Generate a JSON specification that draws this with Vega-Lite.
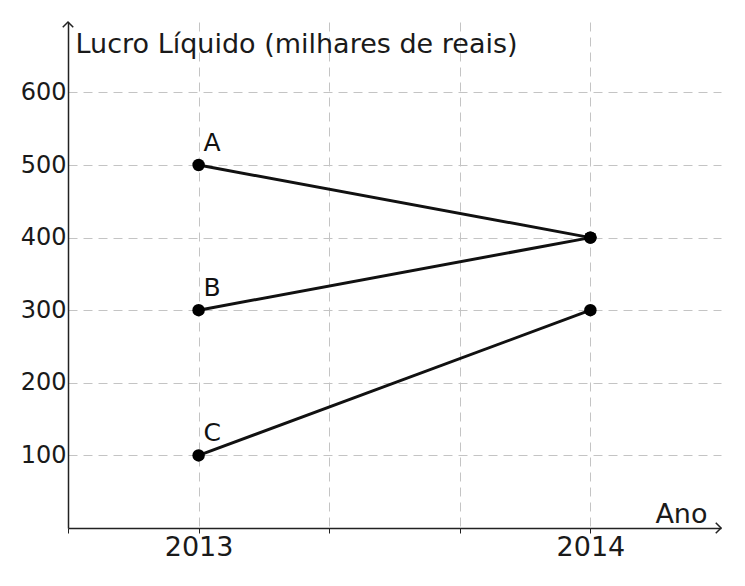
{
  "$schema": "https://vega.github.io/schema/vega-lite/v6.json",
  "autosize": {"type": "none"},
  "width": 653,
  "height": 506,
  "padding": {"left": 68, "top": 22, "right": 24, "bottom": 58},
  "background": "white",
  "config": {
    "view": {"stroke": null},
    "font": "DejaVu Sans",
    "axis": {"labelFont": "DejaVu Sans", "titleFont": "DejaVu Sans"}
  },
  "datasets": {
    "lucro": [
      {"serie": "A", "ano": 2013, "valor": 500},
      {"serie": "A", "ano": 2014, "valor": 400},
      {"serie": "B", "ano": 2013, "valor": 300},
      {"serie": "B", "ano": 2014, "valor": 400},
      {"serie": "C", "ano": 2013, "valor": 100},
      {"serie": "C", "ano": 2014, "valor": 300}
    ],
    "setas": [
      {"eixo": "x", "ano": 2014.3333333, "valor": 0},
      {"eixo": "y", "ano": 2012.6666667, "valor": 697}
    ]
  },
  "encoding": {
    "x": {
      "field": "ano", "type": "quantitative",
      "scale": {"domain": [2012.6666667, 2014.3333333], "nice": false, "zero": false},
      "axis": {
        "values": [2012.6666667, 2013, 2013.3333333, 2013.6666667, 2014],
        "labelExpr": "abs(datum.value - round(datum.value)) < 0.01 ? toString(round(datum.value)) : ''",
        "labelFontSize": 27, "labelColor": "#1a1a1a", "labelPadding": 1,
        "tickSize": 5, "tickColor": "#222", "tickWidth": 1,
        "domainColor": "#222", "domainWidth": 1.5,
        "grid": true, "gridColor": "#c4c4c4", "gridDash": [9, 6], "gridWidth": 1,
        "title": "Ano", "titleFontSize": 27, "titleFontWeight": "normal", "titleColor": "#1a1a1a",
        "titleAngle": 0, "titleAlign": "right", "titleBaseline": "alphabetic",
        "titleX": 639, "titleY": -6
      }
    },
    "y": {
      "field": "valor", "type": "quantitative",
      "scale": {"domain": [0, 697], "nice": false},
      "axis": {
        "values": [100, 200, 300, 400, 500, 600],
        "labelFontSize": 24, "labelColor": "#1a1a1a", "labelPadding": 2,
        "tickSize": 0,
        "domainColor": "#222", "domainWidth": 1.5,
        "grid": true, "gridColor": "#c4c4c4", "gridDash": [9, 6], "gridWidth": 1,
        "title": "Lucro Líquido (milhares de reais)", "titleFontSize": 27, "titleFontWeight": "normal", "titleColor": "#1a1a1a",
        "titleAngle": 0, "titleAlign": "left", "titleBaseline": "alphabetic",
        "titleX": 7, "titleY": 30
      }
    }
  },
  "layer": [
    {
      "data": {"name": "lucro"},
      "mark": {"type": "line", "color": "#111", "strokeWidth": 3},
      "encoding": {"detail": {"field": "serie"}}
    },
    {
      "data": {"name": "lucro"},
      "mark": {"type": "point", "filled": true, "color": "#000", "size": 155, "opacity": 1}
    },
    {
      "data": {"name": "lucro"},
      "transform": [{"filter": "datum.ano == 2013"}],
      "mark": {"type": "text", "align": "left", "baseline": "middle", "dx": 5, "dy": -22, "fontSize": 25, "color": "#111"},
      "encoding": {"text": {"field": "serie"}}
    },
    {
      "data": {"name": "setas"},
      "mark": {"type": "point", "filled": false, "color": "#222", "strokeWidth": 1.5, "size": 110, "opacity": 1, "clip": false},
      "encoding": {
        "shape": {
          "field": "eixo", "type": "nominal",
          "scale": {"domain": ["x", "y"], "range": ["M-1,-1L0,0L-1,1", "M-1,1L0,0L1,1"]},
          "legend": null
        }
      }
    }
  ]
}
